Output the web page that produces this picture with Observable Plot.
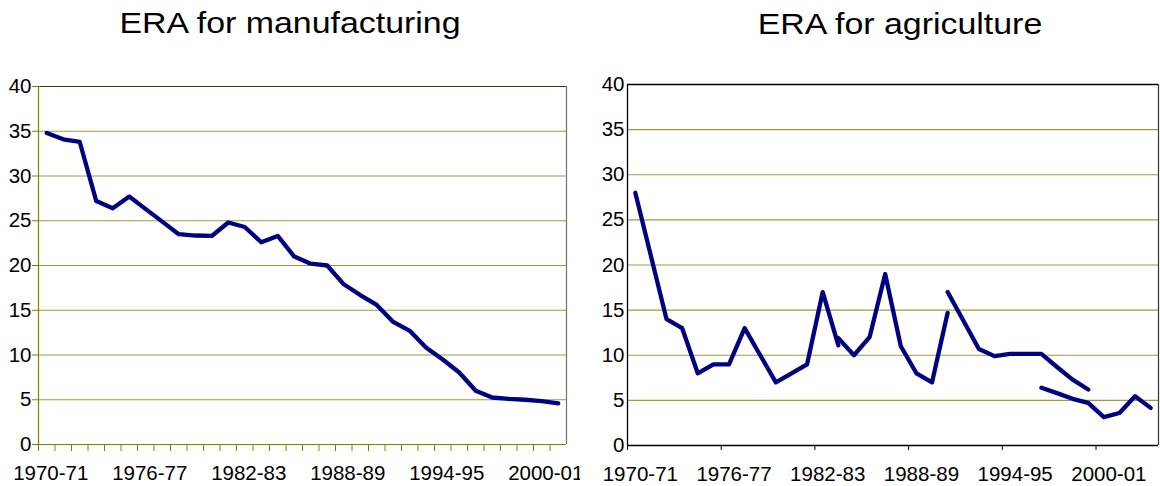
<!DOCTYPE html>
<html><head><meta charset="utf-8">
<script src="https://cdn.jsdelivr.net/npm/d3@7"></script>
<script src="https://cdn.jsdelivr.net/npm/@observablehq/plot@0.6"></script>
<style>
html,body{margin:0;padding:0;background:#fff;}
#wrap{position:relative;width:1160px;height:486px;overflow:hidden;font-family:"Liberation Sans",Arial,sans-serif;background:#fff;}
.title{position:absolute;width:500px;text-align:center;font-size:30px;line-height:30px;color:#000;transform:scaleX(1.13);transform-origin:50% 50%;white-space:nowrap;}
.panel{position:absolute;top:60px;}
</style></head><body>
<div id="wrap">
  <div class="title" style="left:40px;top:8px">ERA for manufacturing</div>
  <div class="title" style="left:650px;top:9px">ERA for agriculture</div>
  <div class="panel" id="left" style="left:0px"></div>
  <div class="panel" id="right" style="left:580px"></div>
</div>
<script>
// ---- data ----
const manufYears = ["1970-71","1971-72","1972-73","1973-74","1974-75","1975-76","1976-77","1977-78",
  "1978-79","1979-80","1980-81","1981-82","1982-83","1983-84","1984-85","1985-86","1986-87","1987-88",
  "1988-89","1989-90","1990-91","1991-92","1992-93","1993-94","1994-95","1995-96","1996-97","1997-98",
  "1998-99","1999-00","2000-01","2001-02"];
const agriYears = ["1970-71","1971-72","1972-73","1973-74","1974-75","1975-76","1976-77","1977-78",
  "1978-79","1979-80","1980-81","1981-82","1982-83","1983-84","1984-85","1985-86","1986-87","1987-88",
  "1988-89","1989-90","1990-91","1991-92","1992-93","1993-94","1994-95","1995-96","1996-97","1997-98",
  "1998-99","1999-00","2000-01","2001-02","2002-03","2003-04"];
const xTickLabels = ["1970-71","1976-77","1982-83","1988-89","1994-95","2000-01"];
const yTicks = [0,5,10,15,20,25,30,35,40];

const manufacturing = [34.8,34.1,33.8,27.2,26.4,27.7,26.3,24.9,23.5,23.35,23.3,24.8,24.3,22.6,23.3,21.0,
  20.2,20.0,17.9,16.7,15.6,13.7,12.7,10.8,9.5,8.05,6.0,5.25,5.1,5.0,4.85,4.6];

const agriSeries1 = [28,21,14,13,8,9,9,13,10,7,8,9,17,11.1,
  null,null,null,null,null,null,null,null,null,null,null,null,null,null,null,null,null,null,null,null];
const agriSeries2 = [null,null,null,null,null,null,null,null,null,null,null,null,null,
  11.9,10,12,19,11,8,7,14.7,
  null,null,null,null,null,null,null,null,null,null,null,null,null];
const agriSeries3 = [null,null,null,null,null,null,null,null,null,null,null,null,null,null,null,null,null,null,null,null,
  17,13.85,10.7,9.9,10.15,10.15,10.15,8.7,7.3,6.2,
  null,null,null,null];
const agriSeries4 = [null,null,null,null,null,null,null,null,null,null,null,null,null,null,null,null,null,null,null,null,null,null,null,null,null,null,
  6.4,5.8,5.17,4.73,3.15,3.6,5.46,4.17];

// ---- styles ----
const LINE = "#000080", GRID = "#9c9c3c", OLIVE = "#808000";
const baseStyle = {fontSize:"20.5px", fontFamily:'"Liberation Sans", Arial, sans-serif', color:"#000", background:"#fff", overflow:"visible"};
const gridVals = yTicks.filter(v => v > 0 && v < 40);

function labelPositions(years){ return xTickLabels.map(l => years.indexOf(l)); }

// ---- left: manufacturing ----
{
  const n = manufYears.length;
  const bounds = d3.range(n + 1).map(i => i - 0.5);
  const chart = Plot.plot({
    width:580, height:426, marginTop:26, marginBottom:42, marginLeft:38, marginRight:14,
    style: baseStyle,
    x:{type:"linear", domain:[-0.5, n - 0.5], axis:null},
    y:{domain:[0,40], axis:null},
    marks:[
      Plot.ruleY(gridVals, {stroke:GRID, strokeWidth:1.2}),
      Plot.ruleY([40], {stroke:"#3a3a10", strokeWidth:1.2}),
      Plot.ruleX([n - 0.5], {stroke:"#707070", strokeWidth:1.2}),
      Plot.ruleX([-0.5], {stroke:OLIVE, strokeWidth:1.2}),
      Plot.ruleY([0], {stroke:OLIVE, strokeWidth:1.2}),
      Plot.axisX(bounds.slice(0, n), {tickSize:7, tickFormat:() => "", stroke:OLIVE, label:null}),
      Plot.axisX(labelPositions(manufYears), {tickSize:0, tickPadding:21, dx:4, tickFormat:i => manufYears[i], label:null}),
      Plot.axisY(yTicks, {tickSize:6, tickPadding:1, stroke:OLIVE, label:null}),
      Plot.lineY(manufacturing, {stroke:LINE, strokeWidth:4.3})
    ]
  });
  document.getElementById("left").appendChild(chart);
}

// ---- right: agriculture ----
{
  const n = agriYears.length;
  const bounds = labelPositions(agriYears).map(i => i - 0.5);
  const chart = Plot.plot({
    width:580, height:426, marginTop:24, marginBottom:41, marginLeft:47, marginRight:2,
    style: baseStyle,
    x:{type:"linear", domain:[-0.5, n - 0.5], axis:null},
    y:{domain:[0,40], axis:null},
    marks:[
      Plot.ruleY(gridVals, {stroke:GRID, strokeWidth:1.2}),
      Plot.ruleY([40], {stroke:"#000", strokeWidth:1.3}),
      Plot.ruleX([n - 0.5], {stroke:"#404040", strokeWidth:1.3}),
      Plot.ruleX([-0.5], {stroke:"#000", strokeWidth:1.3}),
      Plot.ruleY([0], {stroke:"#000", strokeWidth:1.3}),
      Plot.axisX(bounds, {tickSize:5, tickFormat:() => "", stroke:"#000", label:null}),
      Plot.axisX(labelPositions(agriYears), {tickSize:0, tickPadding:21, dx:5, tickFormat:i => agriYears[i], label:null}),
      Plot.axisY(yTicks, {tickSize:0, tickPadding:3, label:null}),
      Plot.lineY(agriSeries1, {stroke:LINE, strokeWidth:4.3}),
      Plot.lineY(agriSeries2, {stroke:LINE, strokeWidth:4.3}),
      Plot.lineY(agriSeries3, {stroke:LINE, strokeWidth:4.3}),
      Plot.lineY(agriSeries4, {stroke:LINE, strokeWidth:4.3})
    ]
  });
  document.getElementById("right").appendChild(chart);
}
</script>
</body></html>
